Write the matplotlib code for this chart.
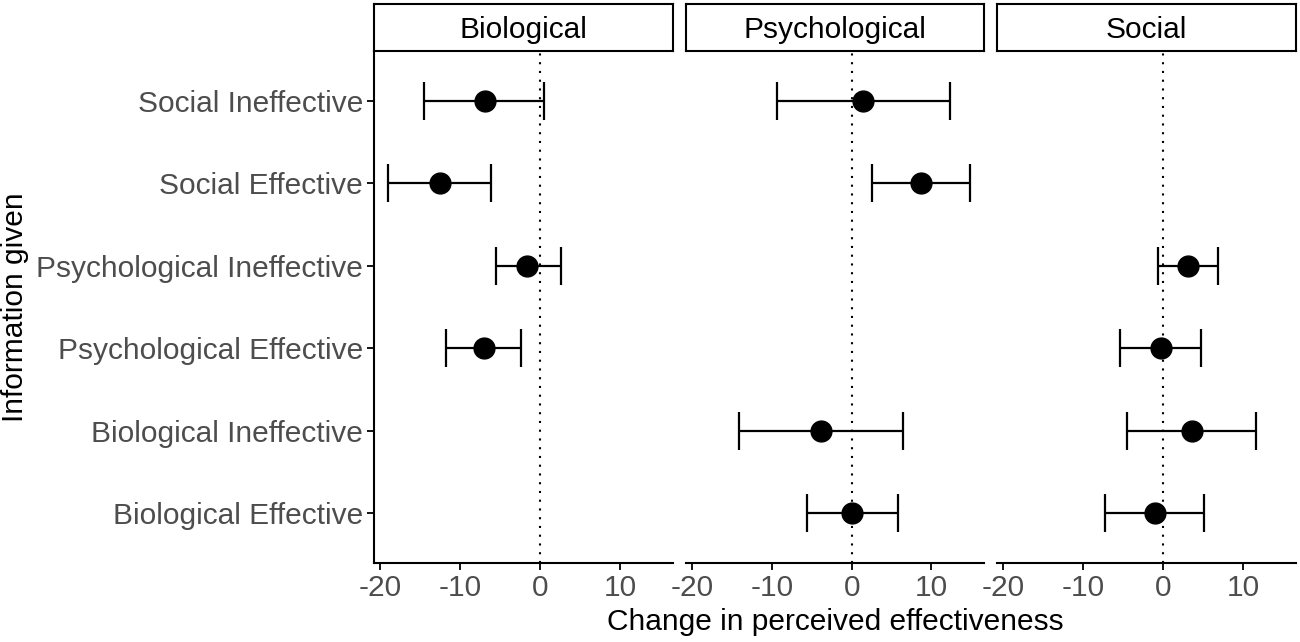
import numpy as np
import matplotlib
matplotlib.use("Agg")
import matplotlib.pyplot as plt

plt.rcParams["font.family"] = ["Liberation Sans", "DejaVu Sans"]

# categories, bottom to top
categorias = ["Biological Effective", "Biological Ineffective",
              "Psychological Effective", "Psychological Ineffective",
              "Social Effective", "Social Ineffective"]
paneles = ["Biological", "Psychological", "Social"]

nan = np.nan
# estimate / lower / upper per panel (same order as categorias)
est_bio = [nan, nan, -7.0, -1.65, -12.6, -6.9]
low_bio = [nan, nan, -11.8, -5.5, -19.1, -14.5]
upp_bio = [nan, nan, -2.4, 2.6, -6.2, 0.5]

est_psy = [0.0, -3.8, nan, nan, 8.75, 1.45]
low_psy = [-5.6, -14.1, nan, nan, 2.6, -9.4]
upp_psy = [5.8, 6.4, nan, nan, 14.9, 12.3]

est_soc = [-1.05, 3.6, -0.25, 3.15, nan, nan]
low_soc = [-7.3, -4.5, -5.4, -0.65, nan, nan]
upp_soc = [5.1, 11.6, 4.75, 6.9, nan, nan]

datos = [(est_bio, low_bio, upp_bio),
         (est_psy, low_psy, upp_psy),
         (est_soc, low_soc, upp_soc)]

xticks = [-20, -10, 0, 10]

# =========================
# FIGURE
# =========================
W, H = 1300, 642
fig = plt.figure(figsize=(W / 100, H / 100), dpi=100)

bordes = [(374, 673), (686, 984), (997, 1296)]
top, bottom, strip_top = 51, 563, 4
gris = "#4D4D4D"
fs = 21.5
y = np.arange(1, len(categorias) + 1)

for i, (x0, x1) in enumerate(bordes):
    ax = fig.add_axes([x0 / W, (H - bottom) / H, (x1 - x0) / W, (bottom - top) / H])
    est, low, upp = [np.array(v, dtype=float) for v in datos[i]]
    ok = ~np.isnan(est)

    ax.axvline(0, color="black", lw=1.5, ls=(0, (1, 3.2)), zorder=1)
    ax.errorbar(est[ok], y[ok],
                xerr=[est[ok] - low[ok], upp[ok] - est[ok]],
                fmt="o", color="black", ms=15, capsize=14,
                elinewidth=1.6, capthick=1.6, zorder=3)

    ax.set_xlim(-20.8, 16.6)
    ax.set_ylim(0.4, 6.6)
    ax.set_xticks(xticks)
    ax.set_xticklabels([str(t) for t in xticks])
    ax.tick_params(axis="x", labelsize=fs, labelcolor=gris, length=5, width=1.3, pad=3)

    for s in ["top", "right"]:
        ax.spines[s].set_visible(False)
    ax.spines["bottom"].set_linewidth(1.5)

    if i == 0:
        ax.set_yticks(y)
        ax.set_yticklabels(categorias)
        ax.tick_params(axis="y", labelsize=fs, labelcolor=gris, length=5, width=1.3, pad=3)
        ax.spines["left"].set_linewidth(1.5)
    else:
        ax.set_yticks([])
        ax.spines["left"].set_visible(False)

    # strip
    sax = fig.add_axes([x0 / W, (H - top) / H, (x1 - x0) / W, (top - strip_top) / H])
    sax.set_xticks([])
    sax.set_yticks([])
    for s in sax.spines.values():
        s.set_linewidth(1.5)
    sax.text(0.5, 0.5, paneles[i], ha="center", va="center_baseline", fontsize=fs,
             transform=sax.transAxes)

fig.text((374 + 1296) / 2 / W, 1 - 622 / H, "Change in perceived effectiveness",
         ha="center", va="center", fontsize=fs)
fig.text(15 / W, 1 - (top + bottom) / 2 / H, "Information given",
         ha="center", va="center", rotation=90, fontsize=fs)

fig.savefig("out.png", dpi=100)
